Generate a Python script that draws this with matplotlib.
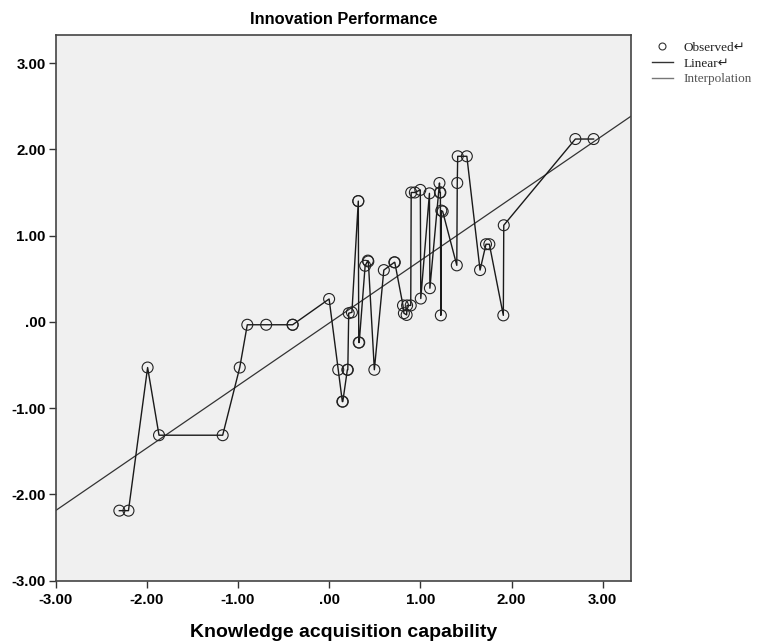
import matplotlib
matplotlib.use("Agg")
import matplotlib.pyplot as plt
from matplotlib.lines import Line2D
import numpy as np

# Observed data (Knowledge acquisition capability vs Innovation Performance), in interpolation order
knowledge = [-2.30, -2.20, -1.99, -1.865, -1.167, -0.98, -0.897, -0.69, -0.40, -0.40,
             0.00, 0.10, 0.145, 0.15, 0.20, 0.205, 0.215, 0.25, 0.32, 0.32, 0.325, 0.33,
             0.395, 0.425, 0.43, 0.496, 0.60, 0.715, 0.72, 0.81, 0.82, 0.85, 0.855, 0.895,
             0.90, 0.94, 1.00, 1.005, 1.10, 1.105, 1.21, 1.215, 1.22, 1.225, 1.23, 1.245,
             1.40, 1.405, 1.41, 1.51, 1.655, 1.72, 1.757, 1.91, 1.915, 2.70, 2.90]
innovation = [-2.19, -2.19, -0.53, -1.315, -1.315, -0.53, -0.034, -0.034, -0.034, -0.034,
              0.265, -0.556, -0.925, -0.925, -0.556, -0.556, 0.10, 0.11, 1.40, 1.40, -0.24, -0.24,
              0.65, 0.71, 0.70, -0.556, 0.60, 0.69, 0.69, 0.19, 0.10, 0.08, 0.19, 0.19,
              1.50, 1.50, 1.53, 0.27, 1.49, 0.39, 1.61, 1.50, 1.50, 0.075, 1.29, 1.28,
              0.655, 1.61, 1.92, 1.92, 0.60, 0.90, 0.90, 0.075, 1.12, 2.12, 2.12]

# Linear fit
fit_intercept = -0.015
fit_slope = 0.725

x_ticks = [-3.0, -2.0, -1.0, 0.0, 1.0, 2.0, 3.0]
x_tick_labels = ["-3.00", "-2.00", "-1.00", ".00", "1.00", "2.00", "3.00"]
y_ticks = [-3.0, -2.0, -1.0, 0.0, 1.0, 2.0, 3.0]
y_tick_labels = ["-3.00", "-2.00", "-1.00", ".00", "1.00", "2.00", "3.00"]
legend_labels = ["Observed\u21b5", "Linear\u21b5", "Interpolation"]

title = "Innovation Performance"
x_label = "Knowledge acquisition capability"

plt.rcParams['font.family'] = ['Liberation Sans', 'DejaVu Sans']

fig = plt.figure(figsize=(7.63, 6.44), dpi=100)
ax = fig.add_axes([55.5/763, 1-580.5/644, (631-55.5)/763, (580.5-34.7)/644])
ax.set_facecolor('#f0f0f0')

xlim = (-3.0, 3.31)
ylim = (-3.0, 3.33)
ax.set_xlim(*xlim)
ax.set_ylim(*ylim)

# linear fit line
xs = np.array(xlim)
ax.plot(xs, fit_intercept + fit_slope * xs, color='#333333', lw=0.9, zorder=2)
# interpolation line
ax.plot(knowledge, innovation, color='#1a1a1a', lw=1.0, zorder=3)
# observed points
ax.scatter(knowledge, innovation, s=62, facecolors='none', edgecolors='#222222',
           linewidths=0.8, zorder=4)

ax.set_xticks(x_ticks)
ax.set_xticklabels(x_tick_labels, fontsize=10.8, fontweight='bold')
ax.set_yticks(y_ticks)
ax.set_yticklabels(y_tick_labels, fontsize=10.8, fontweight='bold')
ax.tick_params(direction='out', length=5, width=1, color='#333333')
ax.tick_params(axis='x', pad=4)
ax.tick_params(axis='y', pad=2)
for s in ax.spines.values():
    s.set_color('#444444')
    s.set_linewidth(1.2)

ax.set_title(title, fontsize=11.8, fontweight='bold', pad=8)
ax.set_xlabel(x_label, fontsize=14, fontweight='bold', labelpad=12)

handles = [
    Line2D([], [], marker='o', ls='none', mfc='none', mec='#333333', ms=5, mew=0.8),
    Line2D([], [], color='#333333', lw=1.0),
    Line2D([], [], color='#777777', lw=1.0),
]
leg = fig.legend(handles, legend_labels, loc='upper left', bbox_to_anchor=(640/763, 1-30/644),
                 frameon=False, handlelength=1.6, handletextpad=0.8, labelspacing=0.25,
                 prop={'family': ['Liberation Serif', 'DejaVu Sans'], 'size': 9.5})
for t, c in zip(leg.get_texts(), ['#222222', '#222222', '#555555']):
    t.set_color(c)

fig.savefig('out.png', dpi=100, facecolor='white')
